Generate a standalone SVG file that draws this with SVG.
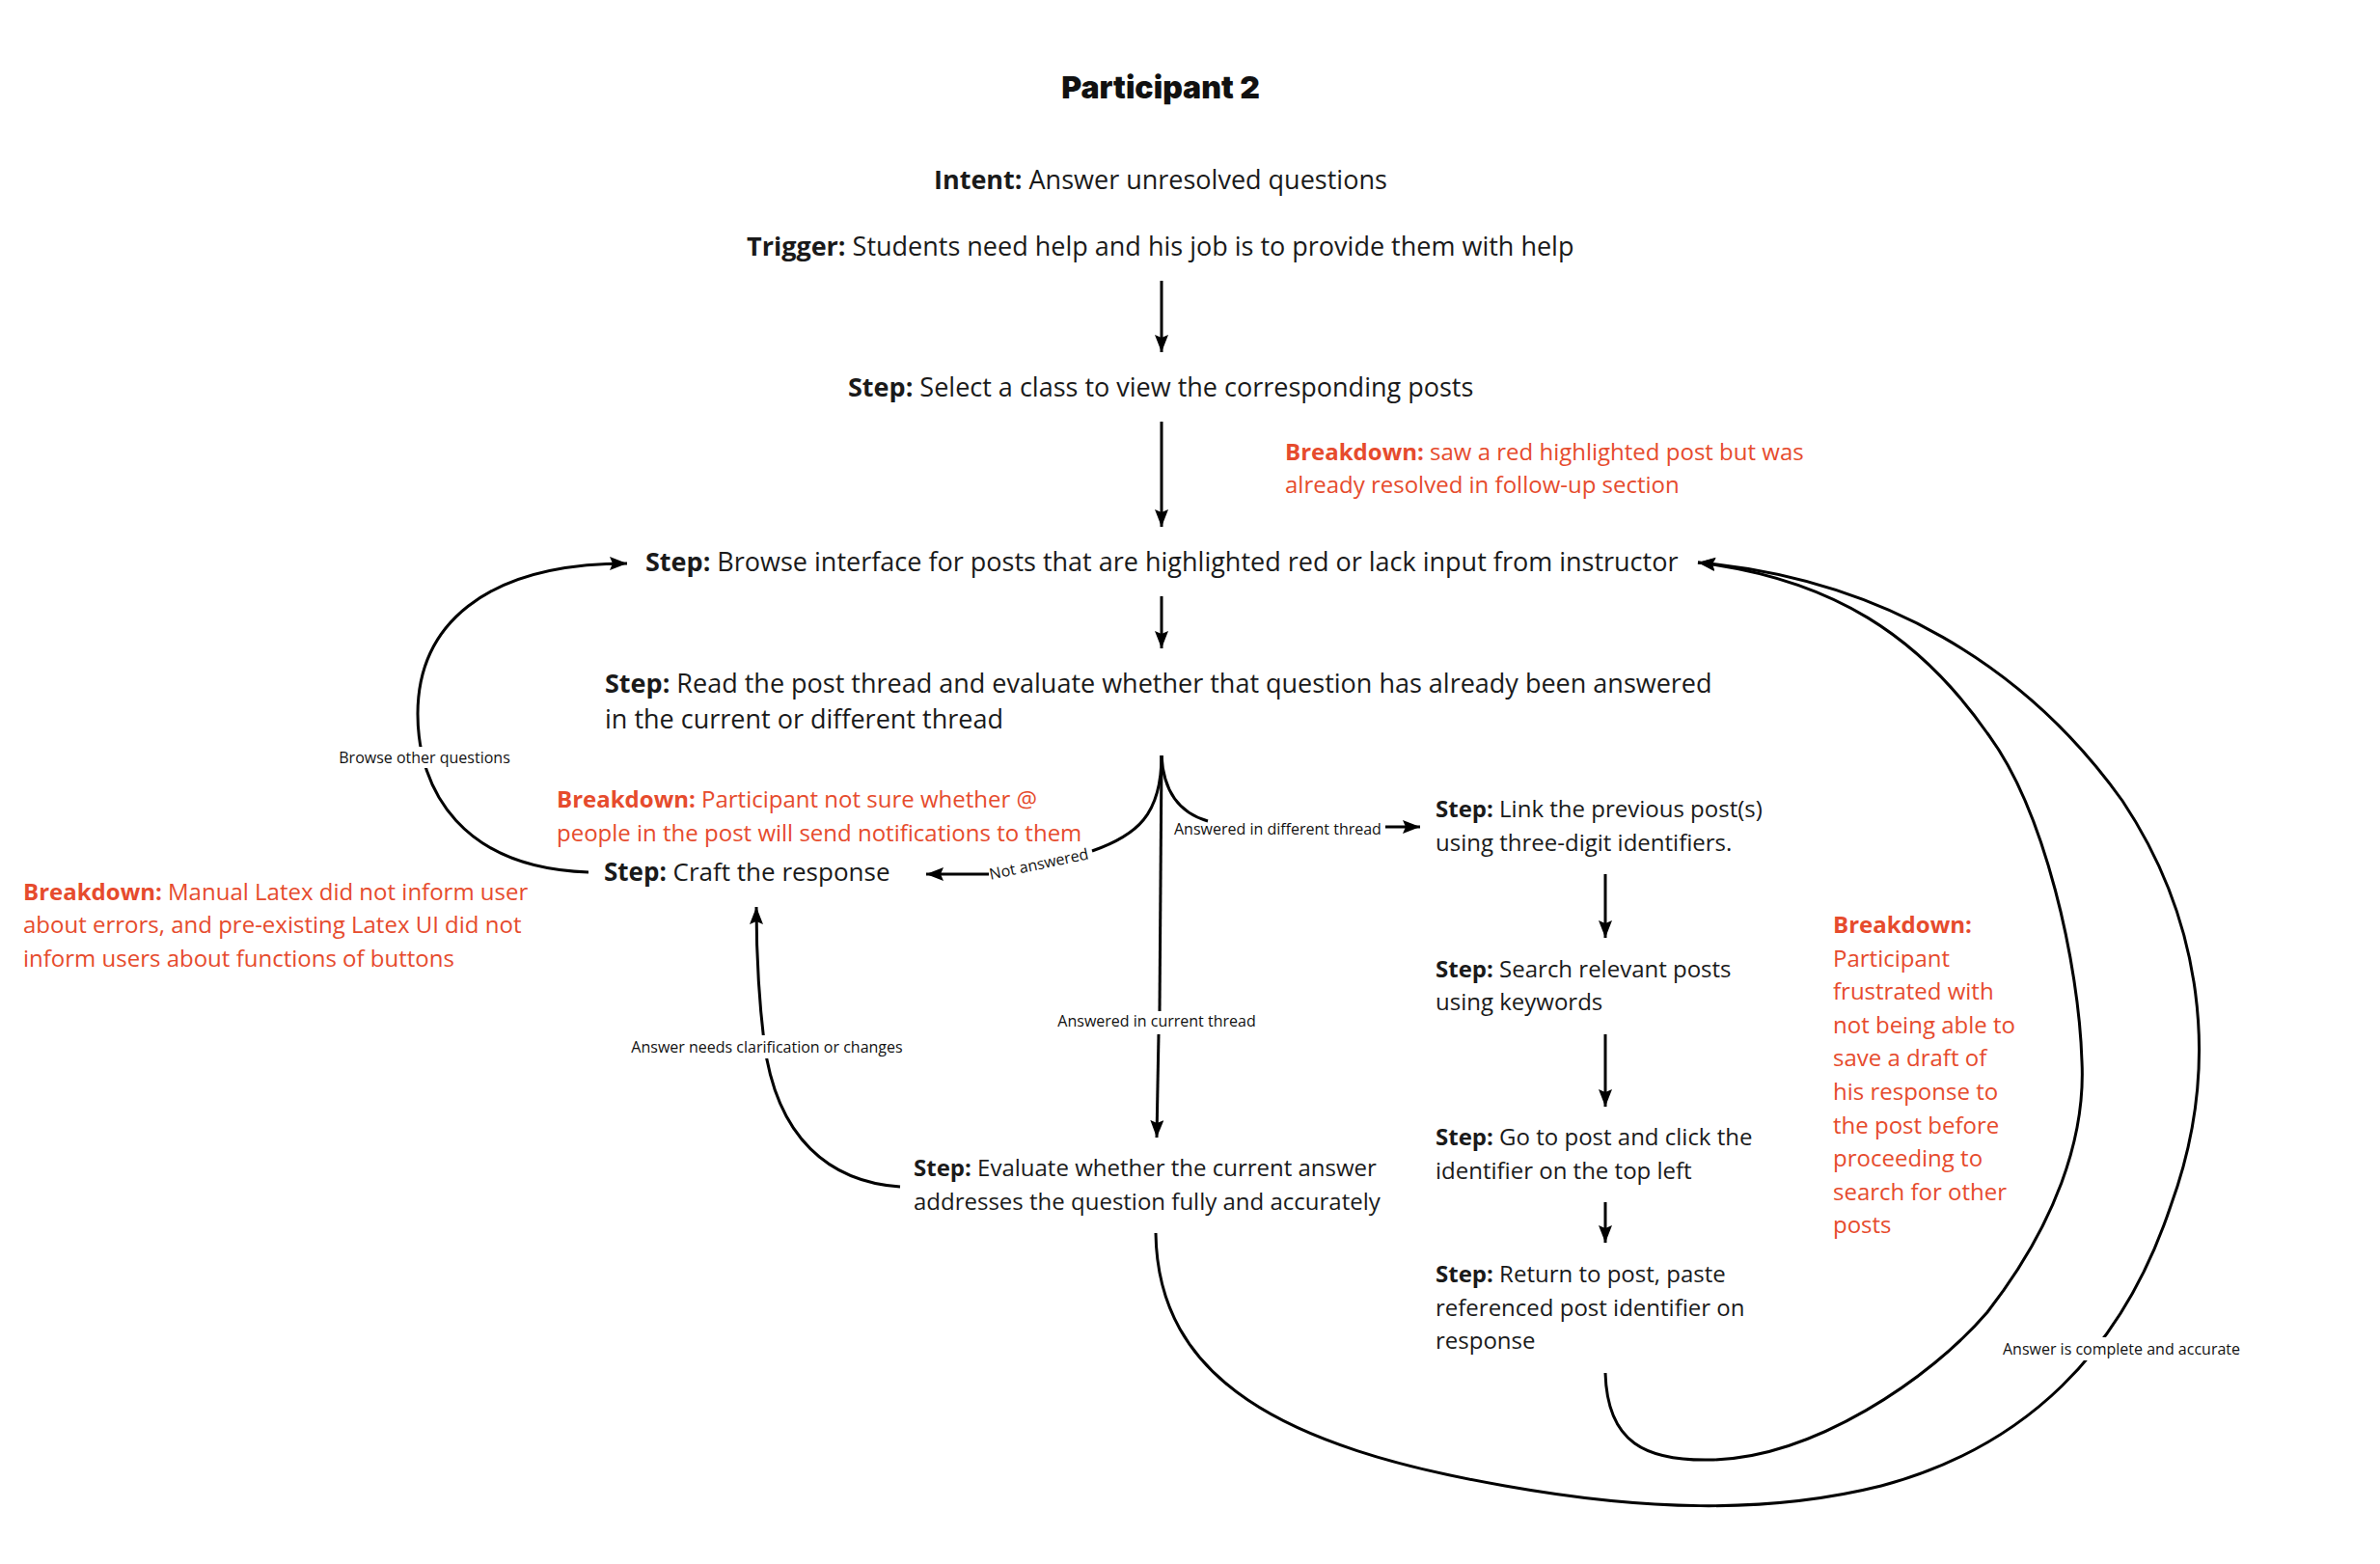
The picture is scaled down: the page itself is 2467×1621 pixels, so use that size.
<svg xmlns="http://www.w3.org/2000/svg" width="2467" height="1621" viewBox="0 0 2467 1621">
<style>
.t{font-family:"Open Sans","Noto Sans","Liberation Sans",sans-serif;fill:#1a1a1a}
.s27{font-size:27px}
.s26{font-size:26px}
.s24{font-size:24px}
.red{fill:#e64b2d}
.b{font-weight:700}
.lbl{font-family:"Open Sans","Noto Sans","Liberation Sans",sans-serif;font-size:16px;fill:#111}
.c{fill:none;stroke:#000;stroke-width:3}
.ca{fill:none;stroke:#000;stroke-width:3;marker-end:url(#ah)}
.title{font-family:Inter,"Noto Sans",sans-serif;font-weight:900;font-size:32px;fill:#111}
</style>
<defs>
<marker id="ah" markerUnits="userSpaceOnUse" markerWidth="22" markerHeight="16" refX="18" refY="7" orient="auto">
<path d="M0,0 L18,7 L0,14 L3,7 Z" fill="#000"/>
</marker>
</defs>
<rect width="2467" height="1621" fill="#fff"/>

<g id="connectors">
<path class="ca" d="M1204,291 L1204,365"/>
<path class="ca" d="M1204,437 L1204,546"/>
<path class="ca" d="M1204,618 L1204,672"/>
<path class="c" d="M1204,783 C1204,845 1178,866 1132,882"/>
<path class="ca" d="M1025,906 L960,906"/>
<path class="c" d="M1204,783 C1206,822 1224,843 1252,851"/>
<path class="ca" d="M1436,857 L1472,857"/>
<path class="c" d="M1204,783 L1202,1048"/>
<path class="ca" d="M1201,1072 L1199,1179"/>
<path class="ca" d="M1664,906 L1664,972"/>
<path class="ca" d="M1664,1072 L1664,1147"/>
<path class="ca" d="M1664,1246 L1664,1288"/>
<path class="ca" d="M610,904 C480,900 433,820 433,740 C433,650 500,584 650,584"/>
<path class="ca" d="M933,1230 C860,1225 805,1180 792,1080 C786,1030 784,990 784,940"/>
<path class="ca" d="M1664,1423 C1666,1495 1705,1515 1776,1513 C1880,1510 2000,1430 2060,1360 C2130,1270 2162,1180 2158,1100 C2155,1000 2120,840 2060,760 C1990,660 1900,600 1760,583"/>
<path class="ca" d="M1198,1278 C1200,1430 1330,1500 1560,1540 C1700,1565 1830,1570 1950,1540 C2100,1500 2200,1400 2250,1250 C2305,1100 2280,950 2200,830 C2100,690 1950,600 1760,583"/>
</g>

<g id="labels">
<g id="lbl-browse"><rect x="352" y="774" width="176" height="22" fill="#fff"/><text class="lbl" x="440" y="791" text-anchor="middle">Browse other questions</text></g>
<g id="lbl-not"><text class="lbl" transform="translate(1078,901) rotate(-12)" text-anchor="middle">Not answered</text></g>
<g id="lbl-diff"><text class="lbl" x="1217" y="865">Answered in different thread</text></g>
<g id="lbl-current"><text class="lbl" x="1199" y="1064" text-anchor="middle">Answered in current thread</text></g>
<g id="lbl-clar"><rect x="655" y="1073" width="282" height="24" fill="#fff"/><text class="lbl" x="795" y="1091" text-anchor="middle">Answer needs clarification or changes</text></g>
<g id="lbl-complete"><rect x="2074" y="1386" width="250" height="24" fill="#fff"/><text class="lbl" x="2199" y="1404" text-anchor="middle">Answer is complete and accurate</text></g>
</g>

<g id="title"><text class="title" x="1203" y="102" text-anchor="middle">Participant 2</text></g>
<g id="intent"><text class="t s27" x="968" y="196"><tspan class="b">Intent:</tspan> Answer unresolved questions</text></g>
<g id="trigger"><text class="t s27" x="774" y="265"><tspan class="b">Trigger:</tspan> Students need help and his job is to provide them with help</text></g>
<g id="step-select"><text class="t s27" x="879" y="411"><tspan class="b">Step:</tspan> Select a class to view the corresponding posts</text></g>
<g id="bd-resolved"><text class="t s24 red" x="1332" y="477"><tspan class="b">Breakdown:</tspan> saw a red highlighted post but was</text><text class="t s24 red" x="1332" y="511">already resolved in follow-up section</text></g>
<g id="step-browse"><text class="t s27" x="669" y="592"><tspan class="b">Step:</tspan> Browse interface for posts that are highlighted red or lack input from instructor</text></g>
<g id="step-read"><text class="t s27" x="627" y="718"><tspan class="b">Step:</tspan> Read the post thread and evaluate whether that question has already been answered</text><text class="t s27" x="627" y="755">in the current or different thread</text></g>
<g id="bd-notify"><text class="t s24 red" x="577" y="837"><tspan class="b">Breakdown:</tspan> Participant not sure whether @</text><text class="t s24 red" x="577" y="872">people in the post will send notifications to them</text></g>
<g id="step-craft"><text class="t s26" x="626" y="913"><tspan class="b">Step:</tspan> Craft the response</text></g>
<g id="bd-latex"><text class="t s24 red" x="24" y="933"><tspan class="b">Breakdown:</tspan> Manual Latex did not inform user</text><text class="t s24 red" x="24" y="967">about errors, and pre-existing Latex UI did not</text><text class="t s24 red" x="24" y="1002">inform users about functions of buttons</text></g>
<g id="step-link"><text class="t s24" x="1488" y="847"><tspan class="b">Step:</tspan> Link the previous post(s)</text><text class="t s24" x="1488" y="882">using three-digit identifiers.</text></g>
<g id="step-search"><text class="t s24" x="1488" y="1013"><tspan class="b">Step:</tspan> Search relevant posts</text><text class="t s24" x="1488" y="1047">using keywords</text></g>
<g id="step-go"><text class="t s24" x="1488" y="1187"><tspan class="b">Step:</tspan> Go to post and click the</text><text class="t s24" x="1488" y="1222">identifier on the top left</text></g>
<g id="step-return"><text class="t s24" x="1488" y="1329"><tspan class="b">Step:</tspan> Return to post, paste</text><text class="t s24" x="1488" y="1364">referenced post identifier on</text><text class="t s24" x="1488" y="1398">response</text></g>
<g id="step-evaluate"><text class="t s24" x="947" y="1219"><tspan class="b">Step:</tspan> Evaluate whether the current answer</text><text class="t s24" x="947" y="1254">addresses the question fully and accurately</text></g>
<g id="bd-draft">
<text class="t s24 red" x="1900" y="967"><tspan class="b">Breakdown:</tspan></text>
<text class="t s24 red" x="1900" y="1002">Participant</text>
<text class="t s24 red" x="1900" y="1036">frustrated with</text>
<text class="t s24 red" x="1900" y="1071">not being able to</text>
<text class="t s24 red" x="1900" y="1105">save a draft of</text>
<text class="t s24 red" x="1900" y="1140">his response to</text>
<text class="t s24 red" x="1900" y="1175">the post before</text>
<text class="t s24 red" x="1900" y="1209">proceeding to</text>
<text class="t s24 red" x="1900" y="1244">search for other</text>
<text class="t s24 red" x="1900" y="1278">posts</text>
</g>
</svg>
